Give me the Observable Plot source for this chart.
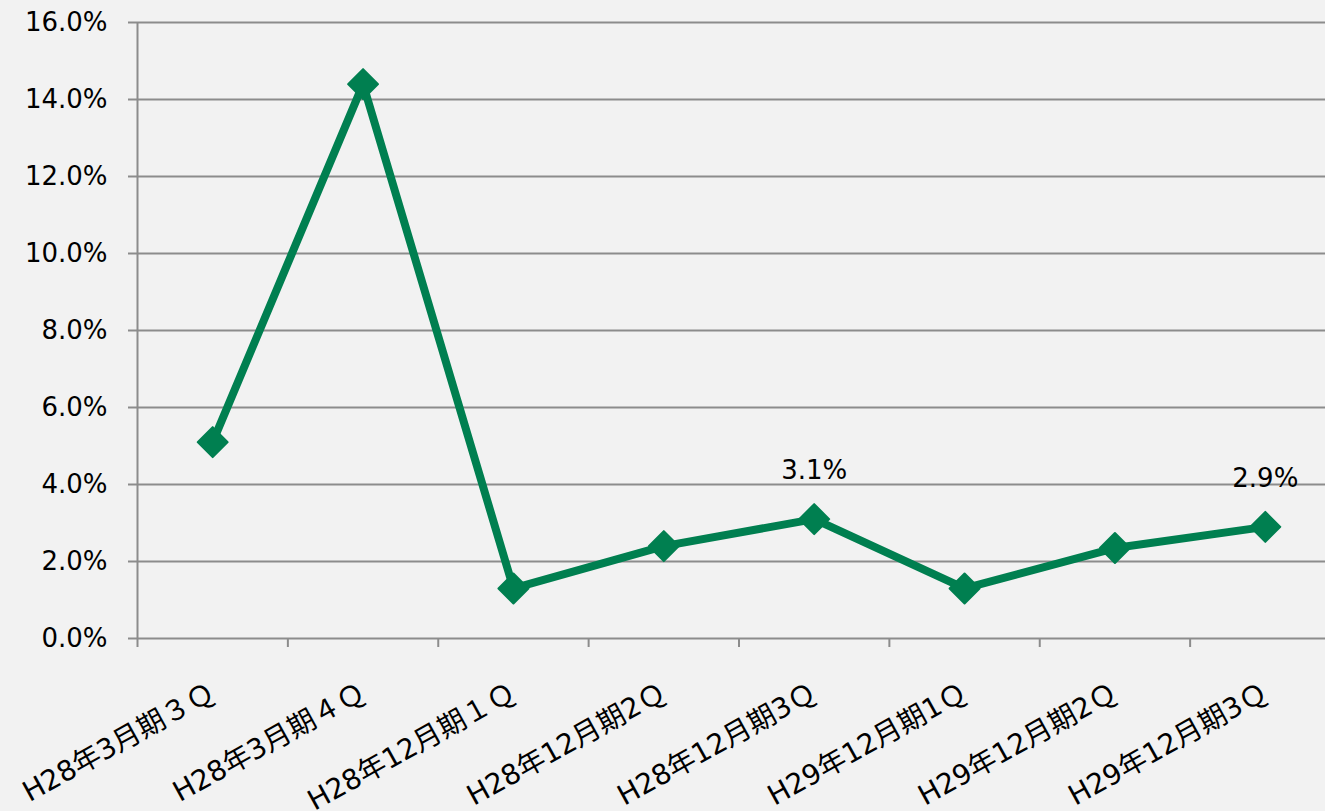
<!DOCTYPE html>
<html>
<head>
<meta charset="utf-8">
<script src="https://cdn.jsdelivr.net/npm/d3@7"></script>
<script src="https://cdn.jsdelivr.net/npm/@observablehq/plot@0.6"></script>
<style>
  html, body { margin: 0; padding: 0; background: #f2f2f2; overflow: hidden; }
  #chart svg { display: block; }
</style>
</head>
<body>
<div id="chart"></div>
<script>
const categories = ["H28年3月期３Ｑ", "H28年3月期４Ｑ", "H28年12月期１Ｑ", "H28年12月期2Ｑ", "H28年12月期3Ｑ", "H29年12月期1Ｑ", "H29年12月期2Ｑ", "H29年12月期3Ｑ"];
const values = [5.1, 14.4, 1.3, 2.4, 3.1, 1.3, 2.35, 2.9];
const dataLabels = [null, null, null, null, "3.1%", null, null, "2.9%"];
const yTicks = [0, 2, 4, 6, 8, 10, 12, 14, 16];
const xBoundaries = [-0.5, 0.5, 1.5, 2.5, 3.5, 4.5, 5.5, 6.5, 7.5];

const rows = categories.map((c, i) => ({i, c, v: values[i], label: dataLabels[i]}));

const font = "'DejaVu Sans', 'Noto Sans CJK JP', sans-serif";
const green = "#007f50";
const gridColor = "#8c8c8c";

const chart = Plot.plot({
  width: 1325,
  height: 811,
  marginLeft: 137,
  marginRight: -15,
  marginTop: 22,
  marginBottom: 173,
  style: {background: "#f2f2f2", fontFamily: font, fontSize: "26px", color: "#000", overflow: "hidden"},
  x: {type: "linear", domain: [-0.5, 7.5], axis: null},
  y: {domain: [0, 16], axis: null},
  marks: [
    Plot.gridY(yTicks, {stroke: gridColor, strokeOpacity: 1, strokeWidth: 2}),
    Plot.axisY(yTicks, {tickSize: 9, tickPadding: 21, tickFormat: d => d.toFixed(1) + "%", stroke: gridColor, strokeWidth: 2, strokeOpacity: 1, fontSize: 26, fill: "#000", label: null}),
    Plot.ruleX([-0.5], {stroke: gridColor, strokeWidth: 2}),
    Plot.axisX(xBoundaries, {tickSize: 9, tickFormat: () => "", stroke: gridColor, strokeWidth: 2, strokeOpacity: 1, label: null}),
    Plot.line(rows, {x: "i", y: "v", stroke: green, strokeWidth: 8, strokeLinejoin: "round"}),
    Plot.dot(rows, {x: "i", y: "v", symbol: "diamond2", r: 13.5, fill: green, stroke: green, strokeWidth: 2, strokeLinejoin: "round"}),
    Plot.text(rows.filter(d => d.label), {x: "i", y: "v", text: "label", dy: -48, fontSize: 26, fill: "#000"}),
    Plot.text(rows, {x: "i", frameAnchor: "bottom", text: "c", rotate: -29, textAnchor: "end", lineAnchor: "middle", dy: 52, fontSize: 28, fill: "#000"})
  ]
});
document.getElementById("chart").appendChild(chart);
</script>
</body>
</html>
